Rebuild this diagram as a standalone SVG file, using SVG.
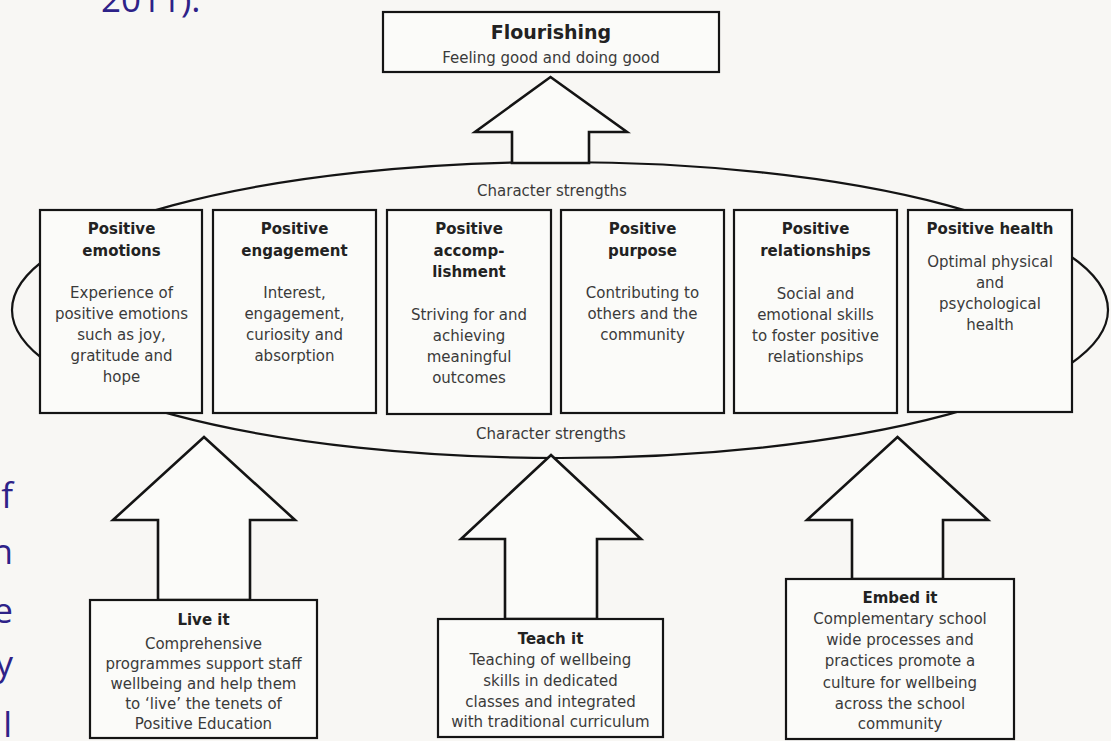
<svg xmlns="http://www.w3.org/2000/svg" width="1111" height="741" viewBox="0 0 1111 741">
<style>
.bg{fill:#f8f7f4}
.box{fill:#fbfbf9;stroke:#141414;stroke-width:2.2}
.arrow{fill:#fbfbf9;stroke:#141414;stroke-width:2.6;stroke-linejoin:miter}
.ell{fill:none;stroke:#141414;stroke-width:2.2}
.t{font-family:"DejaVu Sans",sans-serif;font-size:15px;fill:#3a3a3a;text-anchor:middle}
.b{font-family:"DejaVu Sans",sans-serif;font-size:15px;font-weight:bold;fill:#222;text-anchor:middle}
.blue{font-family:"Open Sans",sans-serif;font-size:35px;fill:#2e2288}
</style>
<rect class="bg" x="0" y="0" width="1111" height="741"/>
<g id="page-text">
<text class="blue" x="101" y="12">2011).</text>
<text class="blue" x="13" y="508" text-anchor="end">f</text>
<text class="blue" x="13" y="564" text-anchor="end">n</text>
<text class="blue" x="13" y="623" text-anchor="end">e</text>
<text class="blue" x="13" y="676" text-anchor="end">y</text>
<text class="blue" x="12" y="737" text-anchor="end">l</text>
</g>
<g id="character-strengths">
<ellipse class="ell" cx="560" cy="310" rx="548" ry="148"/>
<text class="t" x="552" y="196">Character strengths</text>
<text class="t" x="551" y="439">Character strengths</text>
</g>
<g id="connectors">
<polygon class="arrow" points="550.5,77 627,132 589,132 589,163 512,163 512,132 475,132"/>
<polygon class="arrow" points="204,437 295,520 250,520 250,600 158,600 158,520 113,520"/>
<polygon class="arrow" points="551,455 641,539 597,539 597,619 505,619 505,539 461,539"/>
<polygon class="arrow" points="897.5,437 988,520 943,520 943,579 852,579 852,520 807,520"/>
</g>
<g id="flourishing">
<rect class="box" x="383" y="12" width="336" height="60"/>
<text class="b" x="551" y="39" style="font-size:19px">Flourishing</text>
<text class="t" x="551" y="63">Feeling good and doing good</text>
</g>
<g id="positive-emotions">
<rect class="box" x="40" y="210" width="162" height="203"/>
<text class="b" x="121.5" y="234">Positive</text>
<text class="b" x="121.5" y="256">emotions</text>
<text class="t" x="121.5" y="298">Experience of</text>
<text class="t" x="121.5" y="319">positive emotions</text>
<text class="t" x="121.5" y="340">such as joy,</text>
<text class="t" x="121.5" y="361">gratitude and</text>
<text class="t" x="121.5" y="382">hope</text>
</g>
<g id="positive-engagement">
<rect class="box" x="213" y="210" width="163" height="203"/>
<text class="b" x="294.5" y="234">Positive</text>
<text class="b" x="294.5" y="256">engagement</text>
<text class="t" x="294.5" y="298">Interest,</text>
<text class="t" x="294.5" y="319">engagement,</text>
<text class="t" x="294.5" y="340">curiosity and</text>
<text class="t" x="294.5" y="361">absorption</text>
</g>
<g id="positive-accomplishment">
<rect class="box" x="387" y="210" width="164" height="204"/>
<text class="b" x="469" y="234">Positive</text>
<text class="b" x="469" y="256">accomp-</text>
<text class="b" x="469" y="277">lishment</text>
<text class="t" x="469" y="320">Striving for and</text>
<text class="t" x="469" y="341">achieving</text>
<text class="t" x="469" y="362">meaningful</text>
<text class="t" x="469" y="383">outcomes</text>
</g>
<g id="positive-purpose">
<rect class="box" x="561" y="210" width="163" height="203"/>
<text class="b" x="642.5" y="234">Positive</text>
<text class="b" x="642.5" y="256">purpose</text>
<text class="t" x="642.5" y="298">Contributing to</text>
<text class="t" x="642.5" y="319">others and the</text>
<text class="t" x="642.5" y="340">community</text>
</g>
<g id="positive-relationships">
<rect class="box" x="734" y="210" width="163" height="203"/>
<text class="b" x="815.5" y="234">Positive</text>
<text class="b" x="815.5" y="256">relationships</text>
<text class="t" x="815.5" y="299">Social and</text>
<text class="t" x="815.5" y="320">emotional skills</text>
<text class="t" x="815.5" y="341">to foster positive</text>
<text class="t" x="815.5" y="362">relationships</text>
</g>
<g id="positive-health">
<rect class="box" x="908" y="210" width="164" height="202"/>
<text class="b" x="990" y="234">Positive health</text>
<text class="t" x="990" y="267">Optimal physical</text>
<text class="t" x="990" y="288">and</text>
<text class="t" x="990" y="309">psychological</text>
<text class="t" x="990" y="330">health</text>
</g>
<g id="live-it">
<rect class="box" x="90" y="600" width="227" height="138"/>
<text class="b" x="203.5" y="625">Live it</text>
<text class="t" x="203.5" y="649">Comprehensive</text>
<text class="t" x="203.5" y="669">programmes support staff</text>
<text class="t" x="203.5" y="689">wellbeing and help them</text>
<text class="t" x="203.5" y="709">to ‘live’ the tenets of</text>
<text class="t" x="203.5" y="729">Positive Education</text>
</g>
<g id="teach-it">
<rect class="box" x="438" y="619" width="225" height="118"/>
<text class="b" x="550.5" y="644">Teach it</text>
<text class="t" x="550.5" y="665">Teaching of wellbeing</text>
<text class="t" x="550.5" y="686">skills in dedicated</text>
<text class="t" x="550.5" y="707">classes and integrated</text>
<text class="t" x="550.5" y="727">with traditional curriculum</text>
</g>
<g id="embed-it">
<rect class="box" x="786" y="579" width="228" height="160"/>
<text class="b" x="900" y="603">Embed it</text>
<text class="t" x="900" y="624">Complementary school</text>
<text class="t" x="900" y="645">wide processes and</text>
<text class="t" x="900" y="666">practices promote a</text>
<text class="t" x="900" y="688">culture for wellbeing</text>
<text class="t" x="900" y="709">across the school</text>
<text class="t" x="900" y="729">community</text>
</g>
</svg>
